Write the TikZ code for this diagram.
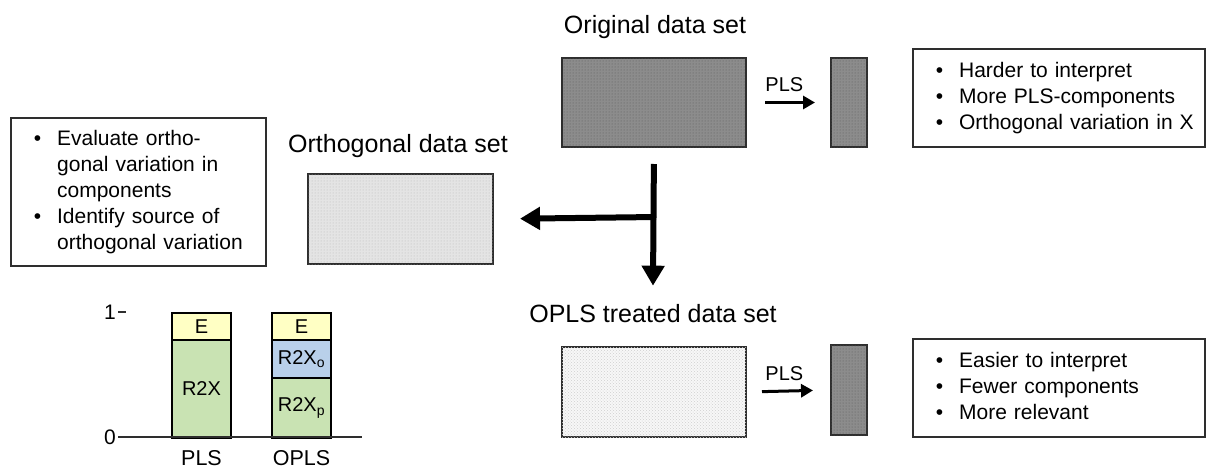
\documentclass[tikz,border=0pt]{standalone}
\usepackage{fontspec}
\setmainfont{Liberation Sans}
\usetikzlibrary{arrows.meta,patterns}

\definecolor{edge}{HTML}{2E2E2E}
\definecolor{darkfill}{HTML}{8C8C8C}
\definecolor{darkdot}{HTML}{5A5A5A}
\definecolor{midfill}{HTML}{E4E4E4}
\definecolor{middot}{HTML}{B8B8B8}
\definecolor{lightfill}{HTML}{F7F7F7}
\definecolor{lightdot}{HTML}{CFCFCF}
\definecolor{eyellow}{HTML}{FFFFC4}
\definecolor{rgreen}{HTML}{C9E3B3}
\definecolor{rblue}{HTML}{B9D0EA}

\tikzset{
  title/.style={font=\fontsize{25}{30}\selectfont, anchor=base, inner sep=0pt},
  datablock/.style={draw=edge, line width=2pt, inner sep=0pt, anchor=north west},
  darkblock/.style={datablock, fill=darkfill, postaction={pattern=dots, pattern color=darkdot}},
  midblock/.style={datablock, fill=midfill, postaction={pattern=dots, pattern color=middot}},
  lightblock/.style={datablock, fill=lightfill, postaction={pattern=crosshatch dots, pattern color=lightdot}},
  infobox/.style={draw=edge, line width=1.6pt, fill=white, anchor=north west,
    font=\fontsize{21}{26}\selectfont, inner xsep=23pt, inner ysep=0pt, align=left},
  bigarrow/.style={line width=6pt, -{Triangle[width=22pt,length=20pt]}},
  plsarrow/.style={line width=3pt, -{Triangle[width=13pt,length=12pt]}},
  plslabel/.style={font=\fontsize{20}{24}\selectfont, anchor=base, inner sep=0pt},
  barname/.style={font=\fontsize{21.5}{25}\selectfont, anchor=base, inner sep=0pt},
  bar/.style={draw=black, line width=2pt, anchor=north west, inner sep=0pt,
    font=\fontsize{20}{24}\selectfont},
  axislabel/.style={font=\fontsize{21}{25}\selectfont, inner sep=0pt},
}

\newcommand{\bulletlist}[1]{\begin{tabular}{@{}l@{\hspace{16pt}}l@{}}#1\end{tabular}}

\begin{document}
\begin{tikzpicture}[x=1pt, y=-1pt]
  \useasboundingbox (0,0) rectangle (1208,469);

  % original data set and its PLS model
  \node[title] (origtitle) at (655,33) {Original data set};
  \node[darkblock, minimum width=184, minimum height=89] (orig) at (561,57) {};
  \node[darkblock, minimum width=36, minimum height=89] (origpls) at (830,57) {};
  \draw[plsarrow, shorten <=18pt, shorten >=15pt] (orig.east) -- (origpls.west)
    node[plslabel, pos=0.45, above=9pt] (pls1) {PLS};
  \node[infobox, text width=246pt, minimum height=98] (origbox) at (912,48)
    {\bulletlist{\textbullet & Harder to interpret\\
                 \textbullet & More PLS-components\\
                 \textbullet & Orthogonal variation in X}};

  % orthogonal part
  \node[title] (orthtitle) at (398,152) {Orthogonal data set};
  \node[midblock, minimum width=185, minimum height=90] (orth) at (307,173) {};
  \node[infobox, text width=209pt, minimum height=148] (orthbox) at (10,117)
    {\bulletlist{\textbullet & Evaluate ortho-\\
                             & gonal variation in\\
                             & components\\
                 \textbullet & Identify source of\\
                             & orthogonal variation}};

  % OPLS treated data set and its PLS model
  \node[title] (oplstitle) at (653,322) {OPLS treated data set};
  \node[lightblock, minimum width=184, minimum height=90] (opls) at (561,346) {};
  \node[darkblock, minimum width=36, minimum height=90] (oplspls) at (830,344) {};
  \draw[plsarrow, shorten <=15pt, shorten >=17pt] (opls.east) -- (oplspls.west)
    node[plslabel, pos=0.45, above=9pt] (pls2) {PLS};
  \node[infobox, text width=246pt, minimum height=98] (oplsbox) at (912,338)
    {\bulletlist{\textbullet & Easier to interpret\\
                 \textbullet & Fewer components\\
                 \textbullet & More relevant}};

  % splitting arrows
  \coordinate (split) at (653,217);
  \draw[bigarrow, shorten <=16pt] (orig.south) -- ([yshift=18pt]oplstitle.north);
  \draw[bigarrow, shorten >=26pt] ([xshift=3pt]split) -- (orth.east);

  % explained variance bars
  \node[bar, fill=rgreen, minimum width=59, minimum height=98] (plsr) at (171,339) {R2X};
  \node[bar, fill=eyellow, minimum width=59, minimum height=27] (plse) at (171,312) {E};
  \node[bar, fill=rgreen, minimum width=59, minimum height=60] (oplsp) at (271,377) {R2X\textsubscript{p}};
  \node[bar, fill=rblue, minimum width=59, minimum height=38] (oplso) at (271,339) {R2X\textsubscript{o}};
  \node[bar, fill=eyellow, minimum width=59, minimum height=27] (oplse) at (271,312) {E};

  % axis
  \coordinate (axisorigin) at (118,437);
  \coordinate (axisend) at (362,437);
  \draw[line width=1.4pt, edge] (axisorigin) -- (axisend);
  \coordinate (tickone) at (118,312);
  \draw[line width=1.4pt, edge] (tickone) -- ++(8,0);
  \node[axislabel, anchor=east] (one) at ([xshift=-2pt]tickone) {1};
  \node[axislabel, anchor=east] (zero) at ([xshift=-2pt]axisorigin) {0};
  \node[barname] (plsname) at (plsr.south |- 0,465) {PLS};
  \node[barname] (oplsname) at (oplsp.south |- 0,465) {OPLS};
\end{tikzpicture}
\end{document}
